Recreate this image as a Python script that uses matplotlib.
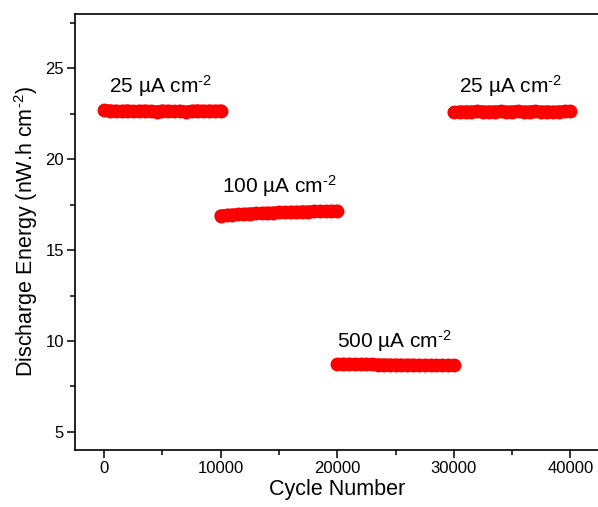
import numpy as np
import matplotlib
matplotlib.use('Agg')
import matplotlib.pyplot as plt
from matplotlib.ticker import MultipleLocator

plt.rcParams['font.family'] = ['Liberation Sans', 'DejaVu Sans']
plt.rcParams['mathtext.fontset'] = 'custom'
plt.rcParams['mathtext.rm'] = 'Liberation Sans'
plt.rcParams['mathtext.it'] = 'Liberation Sans:italic'

# cycle numbers sampled every 500 cycles in each current-density step
cycles_25a = np.arange(0, 10001, 500)
cycles_100 = np.arange(10000, 20001, 500)
cycles_500 = np.arange(20000, 30001, 500)
cycles_25b = np.arange(30000, 40001, 500)

energy_25a = [22.70, 22.68, 22.66, 22.65, 22.68, 22.64, 22.66, 22.67, 22.65, 22.63, 22.67,
              22.66, 22.64, 22.66, 22.62, 22.66, 22.68, 22.66, 22.67, 22.66, 22.68]
energy_100 = [16.90, 16.93, 16.95, 16.97, 16.99, 17.01, 17.02, 17.04, 17.05, 17.06, 17.08,
              17.08, 17.10, 17.10, 17.12, 17.12, 17.13, 17.14, 17.14, 17.15, 17.16]
energy_500 = [8.72, 8.73, 8.73, 8.72, 8.72, 8.71, 8.71, 8.70, 8.70, 8.69, 8.69,
              8.68, 8.68, 8.68, 8.67, 8.67, 8.67, 8.66, 8.67, 8.66, 8.66]
energy_25b = [22.58, 22.62, 22.63, 22.62, 22.64, 22.63, 22.62, 22.63, 22.64, 22.62, 22.63,
              22.64, 22.62, 22.63, 22.64, 22.62, 22.63, 22.61, 22.63, 22.64, 22.64]

labels = ['25 µA cm$^{\\text{-2}}$', '100 µA cm$^{\\text{-2}}$',
          '500 µA cm$^{\\text{-2}}$', '25 µA cm$^{\\text{-2}}$']
label_x = [430, 10120, 19960, 30450]
label_y = [23.67, 18.15, 9.64, 23.67]

fig = plt.figure(figsize=(5.98, 5.07), dpi=100)
ax = fig.add_axes([0.1254, 0.1124, 0.8773, 0.86])

for x, y in [(cycles_25a, energy_25a), (cycles_100, energy_100),
             (cycles_500, energy_500), (cycles_25b, energy_25b)]:
    ax.plot(x, y, linestyle='-', linewidth=9, solid_capstyle='round',
            marker='o', markersize=10, color='#ff0000', markeredgewidth=0)

for tx, ty, t in zip(label_x, label_y, labels):
    ax.text(tx, ty, t, fontsize=15, ha='left', va='baseline')

ax.set_xlim(-2500, 42500)
ax.set_ylim(4, 28)
ax.xaxis.set_major_locator(MultipleLocator(10000))
ax.xaxis.set_minor_locator(MultipleLocator(5000))
ax.yaxis.set_major_locator(MultipleLocator(5))
ax.yaxis.set_minor_locator(MultipleLocator(2.5))

ax.tick_params(which='both', direction='out', width=1.1, labelsize=12, pad=2)
ax.tick_params(which='major', length=6)
ax.tick_params(which='minor', length=3.5)
for s in ax.spines.values():
    s.set_linewidth(1.2)

ax.set_xlabel('Cycle Number', fontsize=15.5, labelpad=2)
ax.set_ylabel('Discharge Energy (nW.h cm$^{\\text{-2}}$)', fontsize=15.5, labelpad=4)

fig.savefig('out.png', dpi=100)
